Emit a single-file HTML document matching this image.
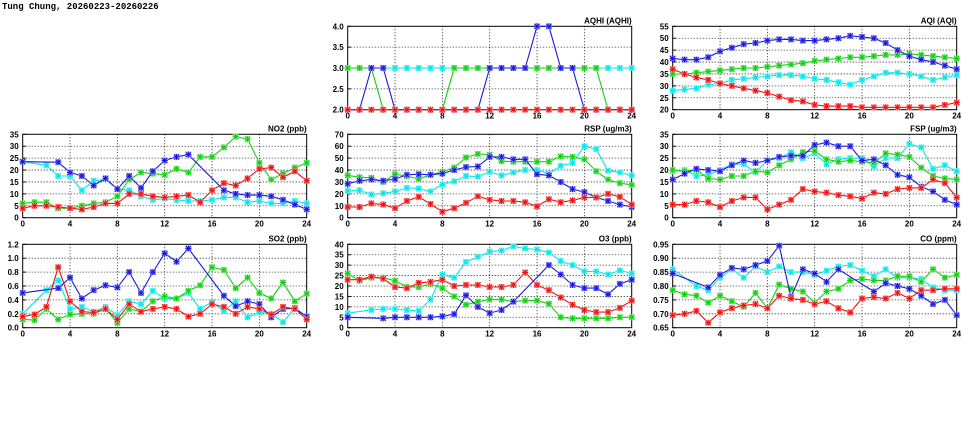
<!DOCTYPE html>
<html><head><meta charset="utf-8"><style>
html,body{margin:0;padding:0;background:#fff;width:975px;height:447px;overflow:hidden}
svg text{font-family:"Liberation Sans",sans-serif;font-weight:bold;font-size:8px;fill:#000}
</style></head><body>
<svg id="chart" width="975" height="447" xmlns="http://www.w3.org/2000/svg">
<text x="2" y="9" style="font-family:'Liberation Mono',monospace;font-size:9px">Tung Chung, 20260223-20260226</text>
</svg>
<script>
const hours = [0,1,2,3,4,5,6,7,8,9,10,11,12,13,14,15,16,17,18,19,20,21,22,23,24];
const xTicks = [0,4,8,12,16,20,24];
const _ = null;
// NO2
const no2Blue = [23.5,_,_,23.3,19,17.5,13.5,16.5,12,17.5,12.5,19.5,24,25.5,26.5,_,_,11.5,10,9.5,9.5,9,7.5,5.5,3.5];
const no2Cyan = [23.5,_,22,17.5,17.5,11.5,15.5,16,12,11.5,9,7.5,8,7.5,7,7,7.5,8.5,8.5,6.5,7,6,6,7,6];
const no2Green = [6,6.5,6.5,4,4,5,6,6.5,9,16,19,18.5,18,20.5,19,25.5,25.5,29.5,34,33,23,16,18.5,21,23];
const no2Red = [4,5,5,4.5,4,3.5,4.5,6,6,10,10,9,8.5,9,9.5,6.5,11.5,14.5,13.5,16.5,20.5,21,17,19.5,15.5];
const no2Ticks = [0,5,10,15,20,25,30,35];
// SO2
const so2Blue = [0.5,_,_,0.57,0.72,0.42,0.54,0.61,0.58,0.8,0.5,0.8,1.07,0.95,1.14,_,_,0.46,0.31,0.38,0.34,0.15,0.27,0.28,0.16];
const so2Cyan = [0.2,_,0.54,0.68,0.27,0.3,0.23,0.3,0.18,0.38,0.34,0.53,0.42,0.42,0.5,0.27,0.37,0.24,0.38,0.15,0.22,0.2,0.08,0.28,0.13];
const so2Green = [0.12,0.11,0.27,0.12,0.19,0.2,0.2,0.27,0.07,0.27,0.23,0.38,0.45,0.42,0.53,0.61,0.87,0.83,0.57,0.72,0.5,0.42,0.65,0.38,0.49];
const so2Red = [0.16,0.19,0.3,0.87,0.38,0.23,0.22,0.27,0.12,0.34,0.23,0.27,0.3,0.27,0.16,0.2,0.34,0.3,0.2,0.3,0.27,0.19,0.3,0.27,0.12];
const so2Ticks = [0,0.2,0.4,0.6,0.8,1.0,1.2];
// AQHI
const aqhiBlue = [2,2,3,3,2,2,2,2,2,2,2,2,3,3,3,3,4,4,3,3,2,2,2,2,2];
const aqhiCyan = [3,3,3,3,3,3,3,3,3,3,3,3,3,3,3,3,3,3,3,3,3,3,3,3,3];
const aqhiGreen = [3,3,3,2,2,2,2,2,2,3,3,3,3,3,3,3,3,3,3,3,3,3,2,2,2];
const aqhiRed = [2,2,2,2,2,2,2,2,2,2,2,2,2,2,2,2,2,2,2,2,2,2,2,2,2];
const aqhiTicks = [2.0,2.5,3.0,3.5,4.0];
// AQI
const aqiBlue = [41.5,41,41,42,44.5,46,47.5,48,49,49.5,49.5,49,49,49.5,50,51,50.5,50,48,45,42.5,41,40,38.5,37];
const aqiCyan = [28,28.5,29,30.5,31,32.5,33,33.5,34,34.5,34.5,34,33,32.5,31.5,30.5,32.5,34,35.5,35.5,35,34,32.5,33.5,34.5];
const aqiGreen = [35,35,35.5,36,36.5,37,37.5,37.5,38,38.5,39,39.5,40.5,41,41.5,42,42,42.5,43,43,43.5,43,42.5,42,41.5];
const aqiRed = [37,35,33.5,32.5,31,30,29,28,27,25.5,24,23.5,22,21.5,21.5,21.5,21,21,21,21,21,21,21,22,23];
const aqiTicks = [20,25,30,35,40,45,50,55];
// RSP
const rspBlue = [28.5,31,32,31,32.5,36,36.5,36,37,40,42.5,43,51,51,49,49,36.5,35.5,30,24,21.5,17,14,11,9];
const rspCyan = [22.5,23,19.5,20.5,22,25,24.5,22,28,30.5,35,34.5,38.5,35.5,38,40,40,37,43.5,46,60,57.5,39.5,38,35.5];
const rspGreen = [35.5,34,33.5,30,36.5,35,32.5,36,38.5,42,50.5,53.5,53,47.5,47,47,47,47,51.5,51,49,39,32,29,27.5];
const rspRed = [9,9,12,11,8,14,17.5,11.5,5,8,12.5,18,15,14,14,13,9.5,15.5,13,14.5,17,17,20,17.5,11];
const rspTicks = [0,10,20,30,40,50,60,70];
// FSP
const fspBlue = [16,18.5,20.5,20,19.5,22,24,23,24,25.5,26,26,30.5,31.5,30,30,24,24.5,22,18,17,13,11,7.5,5.5];
const fspCyan = [19.5,20,17.5,18,20,22.5,22.5,19,24,25,27.5,25,27,22.5,24.5,25,25,21.5,25,25,31,29.5,20.5,22,19.5];
const fspGreen = [20,19.5,20,16.5,16,17.5,17.5,19.5,19,22,24.5,27.5,28,24.5,23.5,24,23.5,23,27,26.5,25.5,21,17.5,16.5,16];
const fspRed = [5.5,5.5,7,6.5,4.5,7,8.5,8.5,3.5,5.5,7.5,12,11,10.5,9.5,9,8,10.5,10,12,12.5,12.5,16,14.5,8.5];
const fspTicks = [0,5,10,15,20,25,30,35];
// O3
const o3Blue = [5,_,_,4.5,5,5,5,5,5.5,6.5,15.5,10,7,8.5,12.5,_,_,30,25.5,20.5,19,19,16,21,23];
const o3Cyan = [7,_,8.5,9,9,8.5,8,13.5,25.5,24,31.5,34,36.5,37,39,38,37.5,36,32,30,27,27,25.5,27.5,26];
const o3Green = [26,22.5,24,24,22.5,19.5,19.5,21,19,15,11,12.5,13.5,13.5,12.5,13,13,11.5,5,4.5,4.5,4.5,4.5,5,5];
const o3Red = [23,23,24.5,23.5,19.5,19,21.5,22,23,20,20.5,20.5,19.5,19.5,20.5,26.5,20.5,18,14.5,11,8.5,7.5,7.5,9.5,13];
const o3Ticks = [0,5,10,15,20,25,30,35,40];
// CO
const coBlue = [0.845,_,_,0.795,0.84,0.865,0.86,0.875,0.89,0.945,0.76,0.86,0.845,0.815,0.86,_,_,0.78,0.81,0.8,0.79,0.765,0.735,0.75,0.695];
const coCyan = [0.86,_,0.8,0.785,0.83,0.86,0.83,0.87,0.85,0.87,0.85,0.85,0.84,0.855,0.87,0.875,0.855,0.835,0.86,0.83,0.83,0.825,0.795,0.785,0.785];
const coGreen = [0.785,0.77,0.765,0.74,0.765,0.745,0.725,0.775,0.72,0.805,0.79,0.78,0.74,0.78,0.79,0.82,0.825,0.82,0.82,0.835,0.835,0.815,0.86,0.83,0.84];
const coRed = [0.695,0.7,0.71,0.668,0.705,0.72,0.73,0.735,0.72,0.765,0.755,0.75,0.735,0.745,0.72,0.705,0.755,0.76,0.755,0.775,0.755,0.785,0.785,0.79,0.79];
const coTicks = [0.65,0.70,0.75,0.80,0.85,0.90,0.95];

const panels = [
 {name:'aqhi',title:'AQHI (AQHI)',L:347.7,R:631.7,T:26.3,B:109.7,ticks:aqhiTicks,dec:1,series:[aqhiCyan,aqhiGreen,aqhiBlue,aqhiRed]},
 {name:'aqi',title:'AQI (AQI)',L:672.7,R:956.7,T:26.3,B:109.7,ticks:aqiTicks,dec:0,series:[aqiCyan,aqiGreen,aqiBlue,aqiRed]},
 {name:'no2',title:'NO2 (ppb)',L:22.7,R:306.7,T:134.3,B:217.7,ticks:no2Ticks,dec:0,series:[no2Cyan,no2Green,no2Blue,no2Red]},
 {name:'rsp',title:'RSP (ug/m3)',L:347.7,R:631.7,T:134.3,B:217.7,ticks:rspTicks,dec:0,series:[rspCyan,rspGreen,rspBlue,rspRed]},
 {name:'fsp',title:'FSP (ug/m3)',L:672.7,R:956.7,T:134.3,B:217.7,ticks:fspTicks,dec:0,series:[fspCyan,fspGreen,fspBlue,fspRed]},
 {name:'so2',title:'SO2 (ppb)',L:22.7,R:306.7,T:244.3,B:327.7,ticks:so2Ticks,dec:1,series:[so2Cyan,so2Green,so2Blue,so2Red]},
 {name:'o3',title:'O3 (ppb)',L:347.7,R:631.7,T:244.3,B:327.7,ticks:o3Ticks,dec:0,series:[o3Cyan,o3Green,o3Blue,o3Red]},
 {name:'co',title:'CO (ppm)',L:672.7,R:956.7,T:244.3,B:327.7,ticks:coTicks,dec:2,series:[coCyan,coGreen,coBlue,coRed]}
];
const colors = ['#00e8e8','#10d010','#1818e0','#f01010'];
const halos = ['#a8f4f4','#a8eca8','#a8a8f4','#f4a8a8'];
const seriesNames = ['cyan','green','blue','red'];
const NS='http://www.w3.org/2000/svg';
const svg=document.getElementById('chart');
function mk(tag,attrs,parent){const e=document.createElementNS(NS,tag);for(const k in attrs)e.setAttribute(k,attrs[k]);(parent||svg).appendChild(e);return e;}

panels.forEach(p=>{
  const g=mk('g',{});
  
  
  const ymin=p.ticks[0], ymax=p.ticks[p.ticks.length-1];
  const xs=v=>p.L+(v-hours[0])/(hours[hours.length-1]-hours[0])*(p.R-p.L);
  const ys=v=>p.B-(v-ymin)/(ymax-ymin)*(p.B-p.T);
  // grid
  p.ticks.forEach((t,i)=>{
    if(i>0&&i<p.ticks.length-1){
      const l=mk('line',{x1:p.L,x2:p.R,y1:ys(t),y2:ys(t),stroke:'#000','stroke-width':0.8,'stroke-dasharray':'1,2'},g);
      
      
    }
    const tx=mk('text',{x:p.L-4,y:ys(t)+3,'text-anchor':'end'},g);
    tx.textContent=t.toFixed(p.dec);
    
    
    mk('line',{x1:p.L,x2:p.L+3,y1:ys(t),y2:ys(t),stroke:'#000'},g);
  });
  xTicks.forEach((t,i)=>{
    if(i>0&&i<xTicks.length-1){
      const l=mk('line',{x1:xs(t),x2:xs(t),y1:p.T,y2:p.B,stroke:'#000','stroke-width':0.8,'stroke-dasharray':'1,2'},g);
      
      
    }
    const tx=mk('text',{x:xs(t),y:p.B+9,'text-anchor':'middle'},g);
    tx.textContent=String(t);
    
    
  });
  const fr=mk('rect',{x:p.L,y:p.T,width:p.R-p.L,height:p.B-p.T,fill:'none',stroke:'#000','stroke-width':1},g);
  
  
  const tt=mk('text',{x:p.R,y:p.T-3,'text-anchor':'end'},g);
  tt.textContent=p.title;
  
  
  p.series.forEach((arr,si)=>{
    const pts=[];
    arr.forEach((v,i)=>{if(v!==null)pts.push([xs(hours[i]),ys(v)]);});
    const pl=mk('polyline',{points:pts.map(q=>q[0].toFixed(1)+','+q[1].toFixed(1)).join(' '),fill:'none',stroke:colors[si],'stroke-width':1.1},g);
    
    
    pts.forEach(q=>{
      const m=mk('g',{},g);
      
      
      mk('rect',{x:q[0]-3,y:q[1]-3,width:6,height:6,fill:halos[si]},m);
      const d='M'+(q[0]-3)+' '+q[1]+'h6M'+q[0]+' '+(q[1]-3)+'v6M'+(q[0]-2.5)+' '+(q[1]-2.5)+'l5 5M'+(q[0]-2.5)+' '+(q[1]+2.5)+'l5 -5';
      mk('path',{d:d,stroke:colors[si],'stroke-width':1,fill:'none'},m);
    });
  });
});
</script>
</body></html>
